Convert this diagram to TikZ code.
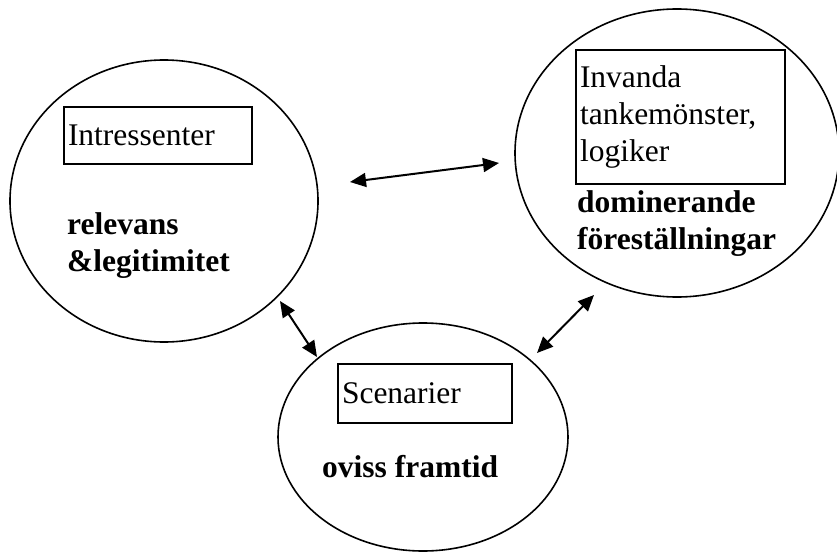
\documentclass[tikz,border=0pt]{standalone}
\usepackage{fontspec}
\setmainfont{Liberation Serif}
\usepackage{tikz}
\usetikzlibrary{arrows.meta, shapes.geometric}

\newcommand{\grundtext}{\fontsize{31.5}{37}\selectfont}

\tikzset{
	kreis/.style={ellipse, draw, line width=1.6pt, inner sep=0pt},
	ruta/.style={rectangle, draw, line width=2pt, anchor=north west,
		align=left, inner xsep=4pt, inner ysep=0pt},
	fet/.style={font=\grundtext\bfseries, anchor=base west, align=left,
		inner sep=0pt},
	pil/.style={line width=2pt,
		{Triangle[length=16pt,width=14pt]}-{Triangle[length=16pt,width=14pt]}}
}

\begin{document}
\begin{tikzpicture}[
	x=1pt, y=-1pt,
	font=\grundtext
]
	\useasboundingbox (0,0) rectangle (837,551);
	% Ellipser
	\node[
		kreis,
		minimum width=308pt,
		minimum height=282pt
	] (vanster) at (164,201) {};
	\node[
		kreis,
		minimum width=324pt,
		minimum height=288pt
	] (hoger) at (677,153) {};
	\node[
		kreis,
		minimum width=290pt,
		minimum height=228pt
	] (nere) at (423,437) {};
	% Rutor
	\node[
		ruta,
		text width=180pt,
		minimum height=57pt
	] (intressenter) at (63,106) {Intressenter};
	\node[
		ruta,
		text width=201pt,
		minimum height=134pt
	] (invanda) at (575,49) {Invanda\\tankemönster,\\logiker};
	\node[
		ruta,
		text width=166pt,
		minimum height=59pt
	] (scenarier) at (337,363) {Scenarier};
	% Fet text
	\node[fet] (relevans) at (67,271) {relevans\\\&legitimitet};
	\node[fet] (dominerande) at (577,249) {dominerande\\föreställningar};
	\node[fet] (oviss) at (322,477) {oviss framtid};
	% Pilar
	\coordinate (pilAa) at (350,182);
	\coordinate (pilAb) at (499,163);
	\coordinate (pilBa) at (280,301);
	\coordinate (pilBb) at (317,357);
	\coordinate (pilCa) at (594,295);
	\coordinate (pilCb) at (537,353);
	\draw[pil] (pilAa) -- (pilAb);
	\draw[pil] (pilBa) -- (pilBb);
	\draw[pil] (pilCa) -- (pilCb);
\end{tikzpicture}
\end{document}
